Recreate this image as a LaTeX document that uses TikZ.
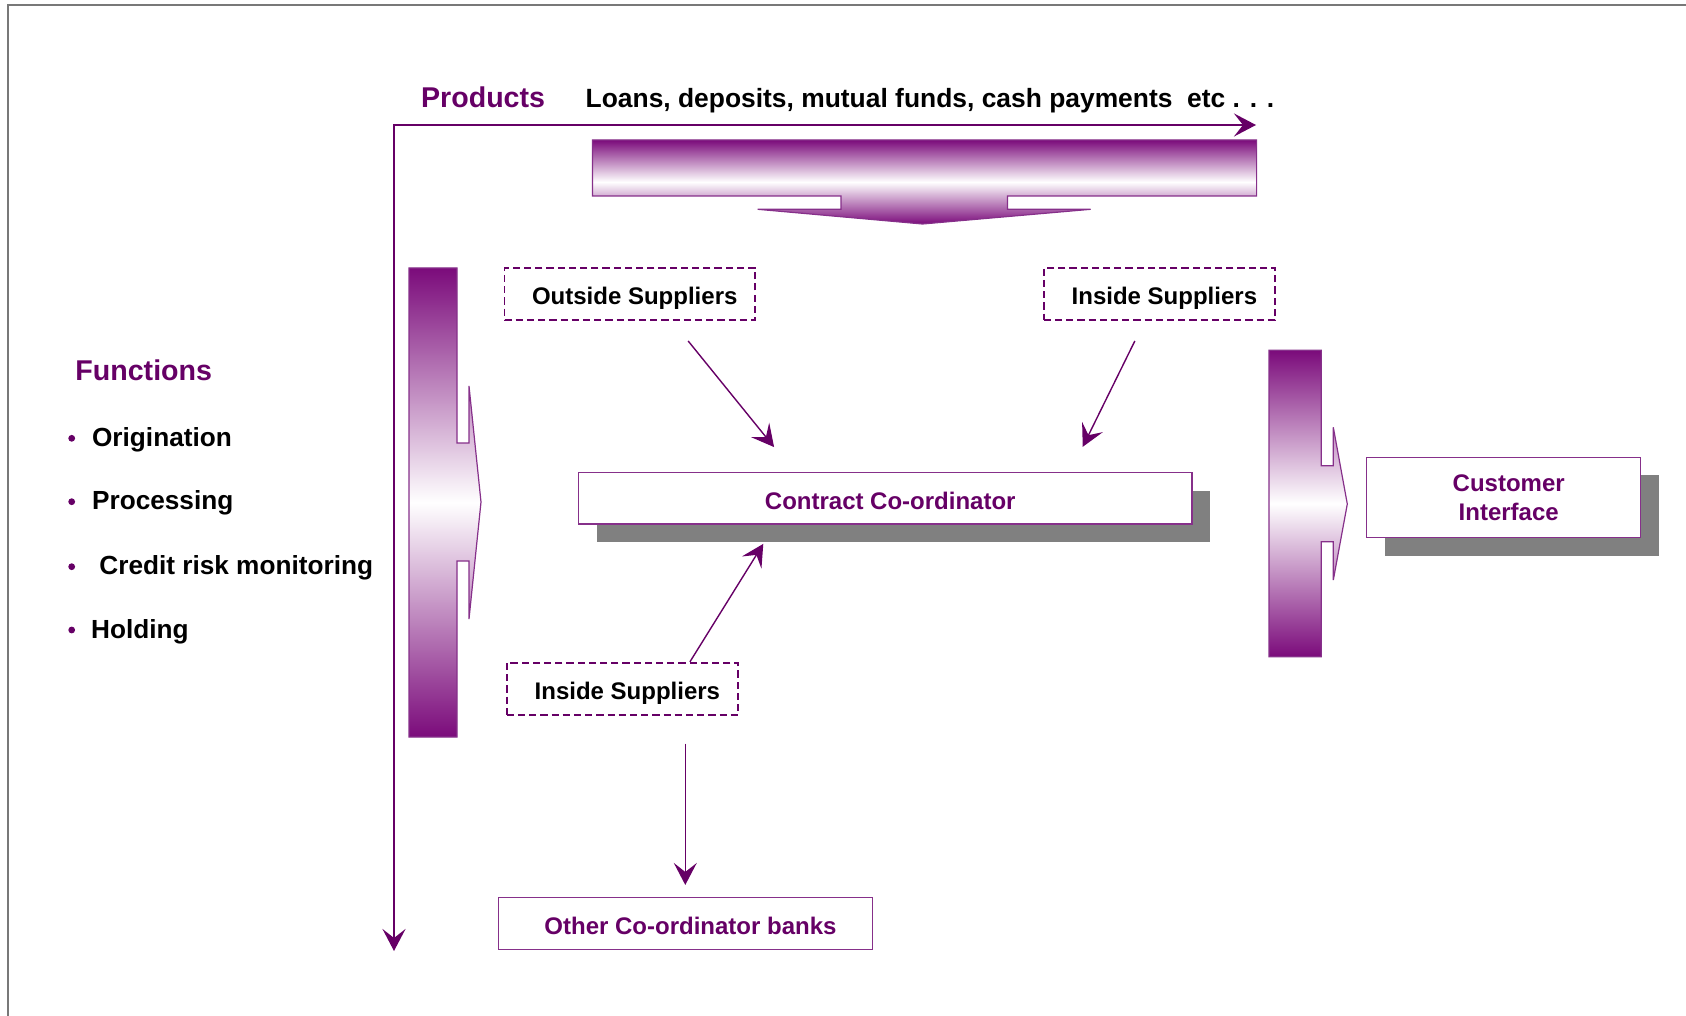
\documentclass[tikz,border=0pt]{standalone}
\usepackage{fontspec}
\setmainfont{Liberation Sans}
\usetikzlibrary{arrows.meta,calc}

\definecolor{plum}{HTML}{660066}
\definecolor{gradpurple}{HTML}{7B0B7B}
\definecolor{edgepurple}{HTML}{86308A}
\definecolor{shadowgray}{HTML}{808080}
\definecolor{framegray}{HTML}{787878}

% nudges box captions slightly to the right of centre
\newcommand\capnudge{\hspace*{5pt}}

\begin{document}
\begin{tikzpicture}[x=0.5pt,y=-0.5pt,
  axisline/.style={draw=plum, line width=1.2pt, arrows={Stealth[length=11pt,width=11.5pt,inset=4.5pt]-Stealth[length=11pt,width=11.5pt,inset=4.5pt]}},
  conn/.style={draw=plum, line width=0.7pt, -{Stealth[length=11pt,width=11.5pt,inset=4.5pt]}},
  boxfont/.style={font=\bfseries\fontsize{12pt}{14.3pt}\selectfont},
  oneline/.style={text height=10.7pt, text depth=0pt},
  solidbox/.style={boxfont, draw=edgepurple, line width=0.75pt, fill=white, text=plum, align=center, inner sep=0pt},
  dashbox/.style={boxfont, oneline, draw=plum, dash pattern=on 3.6pt off 2pt, line width=0.9pt, text=black, inner sep=0pt},
  shadowbox/.style={fill=shadowgray, draw=none, inner sep=0pt},
  bigarrow/.style={top color=gradpurple, bottom color=gradpurple, middle color=white, draw=edgepurple, line width=0.6pt},
  heading/.style={font=\bfseries\fontsize{14.3pt}{17pt}\selectfont, text=plum, inner sep=0pt, anchor=base west},
  itemtext/.style={font=\bfseries\fontsize{13.1pt}{16pt}\selectfont, text=black, inner sep=0pt, anchor=base west},
  bulletdot/.style={fill=plum}
]
\useasboundingbox (0,0) rectangle (1686,1016);

% page frame (top and left edges)
\draw[framegray, line width=1pt] (8,1016) -- (8,5) -- (1686,5);

% product / function axes
\coordinate (corner) at (394,125);
\coordinate (xend) at (1256,125);
\coordinate (yend) at (394,951);
\draw[axisline] (xend) -- (corner) -- (yend);

% headings along the axes
\node[heading] (products) at (420.7,107.5) {Products};
\node[itemtext, font=\bfseries\fontsize{13.2pt}{16pt}\selectfont] (productlist) at (585.3,108)
  {Loans, deposits, mutual funds, cash payments\ \ etc . . .};

\node[heading] (functions) at (75,380) {Functions};
\node[itemtext] (f1) at (91.7,446.3) {Origination};
\node[itemtext] (f2) at (91.7,509.9) {Processing};
\node[itemtext] (f3) at (99,574.8) {Credit risk monitoring};
\node[itemtext] (f4) at (90.7,638.2) {Holding};
\fill[bulletdot] (71.7,438.3) circle[radius=1.7pt];
\fill[bulletdot] (71.7,501.7) circle[radius=1.7pt];
\fill[bulletdot] (71.7,566.7) circle[radius=1.7pt];
\fill[bulletdot] (71.7,630) circle[radius=1.7pt];

% shaded block arrows
\shade[bigarrow] (592.4,140) -- (1256.6,140) -- (1256.6,196) -- (1007.4,196)
  -- (1007.4,209.3) -- (1090.7,209.3) -- (922.5,224) -- (757.7,209.3)
  -- (841,209.3) -- (841,196) -- (592.4,196) -- cycle;
\shade[bigarrow] (409,268) -- (457,268) -- (457,443) -- (469,443) -- (469,386)
  -- (481,502) -- (469,619) -- (469,561) -- (457,561) -- (457,737)
  -- (409,737) -- cycle;
\shade[bigarrow] (1269,350.3) -- (1321.3,350.3) -- (1321.3,465.7) -- (1333.3,465.7)
  -- (1333.3,427.3) -- (1347.3,504) -- (1333.3,580) -- (1333.3,541.7)
  -- (1321.3,541.7) -- (1321.3,656.7) -- (1269,656.7) -- cycle;

% drop shadows
\node[shadowbox, minimum width=306.75pt, minimum height=25.65pt] (ccshadow) at (903.25,516.35) {};
\node[shadowbox, minimum width=137pt, minimum height=40.2pt] (cishadow) at (1521.7,515.5) {};

% boxes
\node[solidbox, oneline, minimum width=306.75pt, minimum height=25.65pt] (cc) at (885.25,498.35) {\capnudge Contract Co-ordinator};
\node[solidbox, minimum width=137pt, minimum height=40.2pt] (ci) at (1503.7,497.5) {\capnudge Customer\\\capnudge Interface};
\node[solidbox, oneline, minimum width=187.2pt, minimum height=25.8pt] (ob) at (685.5,923.5) {\capnudge Other Co-ordinator banks};

\node[dashbox, minimum width=125.25pt, minimum height=26pt] (os) at (629.75,294) {\capnudge Outside Suppliers};
\node[dashbox, minimum width=115.6pt, minimum height=26pt] (ist) at (1159.4,294) {\capnudge Inside Suppliers};
\node[dashbox, minimum width=115.65pt, minimum height=26.15pt] (isb) at (622.35,688.85) {\capnudge Inside Suppliers};

% connectors
\draw[conn, shorten <=12.9pt, shorten >=16pt]
  ($(os.south west)!0.667!(os.south east)$) -- ($(cc.north west)!0.352!(cc.north east)$);
\draw[conn, shorten <=11.2pt, shorten >=14pt]
  ($(ist.south west)!0.437!(ist.south east)$) -- ($(cc.north west)!0.801!(cc.north east)$);
\draw[conn, shorten >=11.25pt]
  ($(isb.north west)!0.79!(isb.north east)$) -- ($(cc.south west)!0.321!(cc.south east)$);
\coordinate (isbout) at ($(isb.south west)!0.77!(isb.south east)$);
\draw[conn, shorten <=13.85pt, shorten >=6pt] (isbout) -- (isbout |- ob.north);

\end{tikzpicture}
\end{document}
